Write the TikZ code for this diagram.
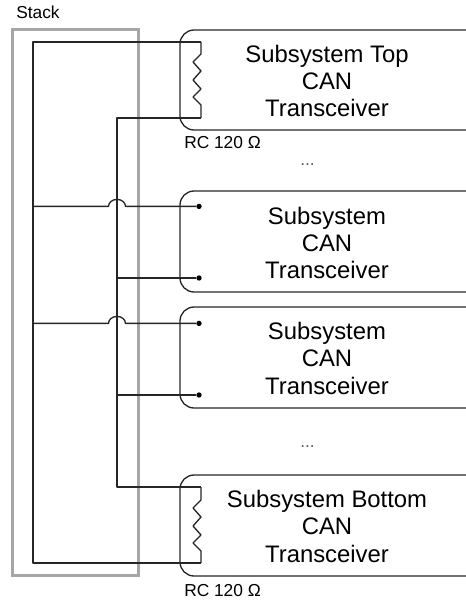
\documentclass[tikz,border=0pt]{standalone}
\usepackage{fontspec}
\setmainfont{Liberation Sans}
\newcommand{\PX}{0.75pt}
\tikzset{
 x=\PX,y=-\PX,
 wire/.style={draw=black!85,line width=1pt,line join=round},
 stackbox/.style={draw=black!35,line width=2.25pt},
 big/.style={font=\fontsize{17.9pt}{20.6pt}\selectfont,align=center,anchor=center,inner sep=0pt},
 small/.style={font=\fontsize{13pt}{15pt}\selectfont,anchor=base west,inner sep=0pt},
 dots/.style={font=\fontsize{13pt}{15pt}\selectfont,anchor=base west,inner sep=0pt,text=black!65},
 dot/.style={circle,fill=black,inner sep=0pt,minimum size=4pt},
}
\begin{document}
\begin{tikzpicture}
\useasboundingbox (0,0) rectangle (466,602);
\node[small] (stacklabel) at (16,18.5) {Stack};
\draw[stackbox] (12,29.5) rectangle (138,575);
% boxes
\draw[wire,rounded corners=10.5pt] (467,30) -- (180,30) -- (180,130) -- (467,130);
\draw[wire,rounded corners=10.5pt] (467,191) -- (180,191) -- (180,292) -- (467,292);
\draw[wire,rounded corners=10.5pt] (467,307) -- (180,307) -- (180,408) -- (467,408);
\draw[wire,rounded corners=10.5pt] (467,475) -- (180,475) -- (180,576) -- (467,576);
\node[big] (t1) at (327,81) {Subsystem Top\\CAN\\Transceiver};
\node[big] (t2) at (327,243) {Subsystem\\CAN\\Transceiver};
\node[big] (t3) at (327,358) {Subsystem\\CAN\\Transceiver};
\node[big] (t4) at (327,526) {Subsystem Bottom\\CAN\\Transceiver};
\node[small] (rc1) at (184,148.5) {RC 120 Ω};
\node[small] (rc2) at (184,596) {RC 120 Ω};
\node[dots] (e1) at (300,165.5) {...};
\node[dots] (e2) at (300,447) {...};
% nodes
\node[dot] (d1) at (199,206.4) {};
\node[dot] (d2) at (199,278) {};
\node[dot] (d3) at (199,323.4) {};
\node[dot] (d4) at (199,395) {};
\coordinate (rt1) at (201,42);
\coordinate (rt2) at (201,118);
\coordinate (rb1) at (201,487);
\coordinate (rb2) at (201,563);
% bus
\draw[wire] (rt1) -- (33,42) -- (33,563) -- (rb2);
\draw[wire] (rt2) -- (117,118) -- (117,487) -- (rb1);
\draw[wire] (33,206.4) -- (108.5,206.4) arc[start angle=180,end angle=360,x radius=8.5,y radius=7] -- (d1);
\draw[wire] (33,323.4) -- (108.5,323.4) arc[start angle=180,end angle=360,x radius=8.5,y radius=7] -- (d3);
\draw[wire] (117,278) -- (d2);
\draw[wire] (117,395) -- (d4);
% resistors
\draw[wire] (rt1) -- (201,54) -- (193,62) -- (201,71) -- (193,80) -- (201,89) -- (193,97) -- (201,105) -- (rt2);
\draw[wire] (rb1) -- (201,500) -- (193,508) -- (201,517) -- (193,526) -- (201,535) -- (193,543) -- (201,551) -- (rb2);
\end{tikzpicture}
\end{document}
